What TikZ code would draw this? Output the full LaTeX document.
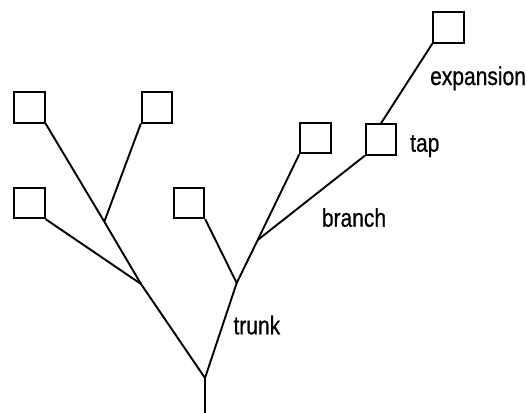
\documentclass[tikz,border=0pt]{standalone}
\usepackage{fontspec}
\setmainfont{Liberation Sans}[FakeStretch=0.82,FakeBold=0.6]
\begin{document}
\begin{tikzpicture}[x=1pt,y=-1pt,
  wire/.style={line width=1.9pt},
  leaf/.style={draw, minimum size=30.5pt, inner sep=0pt, line width=1.9pt},
  lbl/.style={anchor=base west, inner sep=0pt, font=\fontsize{25.6}{28}\selectfont}]
\useasboundingbox (0,0) rectangle (527,412);
\node[leaf] (A) at (29.5,107.5) {};
\node[leaf] (B) at (157,107.5) {};
\node[leaf] (C) at (29.5,203) {};
\node[leaf] (D) at (189,203) {};
\node[leaf] (E) at (315.5,138) {};
\node[leaf] (tap) at (381,139.5) {};
\node[leaf] (exp) at (448.5,27.5) {};
\coordinate (root) at (205,413);
\coordinate (fork) at (205,378);
\coordinate (j1) at (141,284);
\coordinate (j2) at (104.3,221.7);
\coordinate (j3) at (236.7,283);
\coordinate (j4) at (257.7,240);
\draw[wire] (root) -- (fork) -- (j1) -- (j2) -- (A.south east);
\draw[wire] (j1) -- (C.south east);
\draw[wire] (j2) -- (B.south west);
\draw[wire] (fork) -- (j3) -- (j4) -- (E.south west);
\draw[wire] (j3) -- (D.south east);
\draw[wire] (j4) -- (tap.south west);
\draw[wire] (tap.north) -- (exp.south west);
\node[lbl] (lexp) at (430,85) {expansion};
\node[lbl] (ltap) at (410,151.7) {tap};
\node[lbl] (lbranch) at (321.7,226.7) {branch};
\node[lbl] (ltrunk) at (233.3,334.3) {trunk};
\end{tikzpicture}
\end{document}
